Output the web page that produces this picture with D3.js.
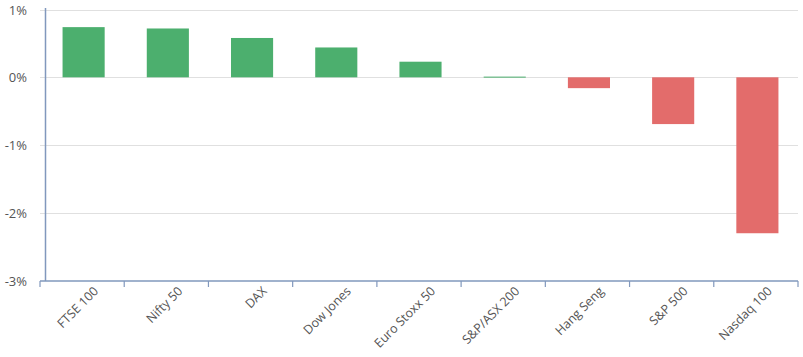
<!DOCTYPE html>
<html><head><meta charset="utf-8">
<script src="https://cdn.jsdelivr.net/npm/d3@7"></script>
<style>body{margin:0;background:#fff;font-family:"Open Sans",sans-serif;}</style>
</head><body><svg id="c" width="803" height="357"></svg>
<script>
const categories = ["FTSE 100","Nifty 50","DAX","Dow Jones","Euro Stoxx 50","S&P/ASX 200","Hang Seng","S&P 500","Nasdaq 100"];
const values = [0.74, 0.72, 0.58, 0.44, 0.23, 0.01, -0.16, -0.69, -2.30];
const yTicks = [1, 0, -1, -2, -3];

const svg = d3.select("#c");
const L = 40, R = 798;
const x = d3.scaleBand().domain(categories).range([L, R]).paddingInner(0.5).paddingOuter(0.25);
const y = d3.scaleLinear().domain([-3, 1]).range([280.7, 9.5]);
const off = 1.5;

svg.append("g").selectAll("line").data(yTicks.filter(d=>d!==-3)).join("line")
  .attr("x1", L).attr("x2", R).attr("y1", d=>Math.round(y(d))+0.5).attr("y2", d=>Math.round(y(d))+0.5)
  .attr("stroke", "#e0e0e0").attr("stroke-width", 1);

svg.append("g").selectAll("text").data(yTicks).join("text")
  .attr("x", 27).attr("y", d=>y(d)+5).attr("text-anchor","end")
  .attr("font-size", 13).attr("fill","#555").text(d=>d+"%");

svg.append("g").selectAll("rect").data(values).join("rect")
  .attr("x", (d,i)=>x(categories[i])+off)
  .attr("width", x.bandwidth())
  .attr("y", d=>y(Math.max(0,d)))
  .attr("height", d=>Math.max(1, Math.abs(y(d)-y(0))))
  .attr("fill", d=>d>=0 ? "#4caf6e" : "#e36c6b");

svg.append("line").attr("x1",45.5).attr("x2",45.5).attr("y1",8).attr("y2",281)
  .attr("stroke","#8198bd").attr("stroke-width",1.5);

svg.append("line").attr("x1",L).attr("x2",R).attr("y1",281).attr("y2",281)
  .attr("stroke","#8198bd").attr("stroke-width",1.5);
const bounds = d3.range(categories.length+1).map(i=>L + i*(R-L)/categories.length);
svg.append("g").selectAll("line").data(bounds).join("line")
  .attr("x1",d=>d).attr("x2",d=>d).attr("y1",281).attr("y2",287)
  .attr("stroke","#8198bd").attr("stroke-width",1.2);

svg.append("g").selectAll("text").data(categories).join("text")
  .attr("transform", d=>`translate(${x(d)+x.bandwidth()/2+17},292) rotate(-45)`)
  .attr("text-anchor","end").attr("font-size",12.5).attr("fill","#555").text(d=>d);
</script></body></html>
